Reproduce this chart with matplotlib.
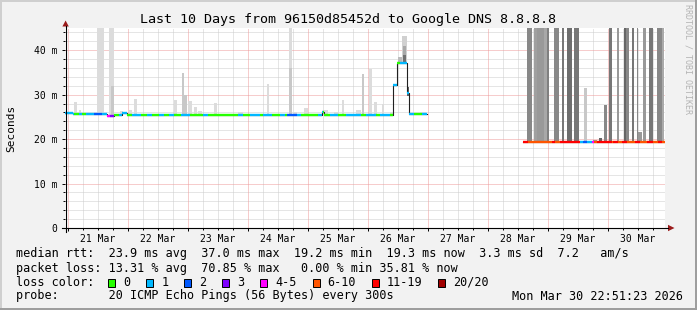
import matplotlib
matplotlib.use('Agg')
import matplotlib.pyplot as plt
from matplotlib.patches import Rectangle, Polygon
from matplotlib.lines import Line2D
import numpy as np

W, H = 697, 310
MONO = 'DejaVu Sans Mono'

# time is in hours counted from 21 Mar 00:00
t_start, t_end = -1.15, 238.85
day_labels = ['21 Mar', '22 Mar', '23 Mar', '24 Mar', '25 Mar',
              '26 Mar', '27 Mar', '28 Mar', '29 Mar', '30 Mar']
y_ticks = [0, 10, 20, 30, 40]
y_tick_labels = ['0', '10 m', '20 m', '30 m', '40 m']

loss_labels = ['0', '1', '2', '3', '4-5', '6-10', '11-19', '20/20']
loss_colors = ['#26ff00', '#00b8ff', '#0059ff', '#7e00ff',
               '#ff00ff', '#ff5500', '#ff0000', '#a10000']

# median rtt (ms), step values, first block of data
med1_t = [-1.15, 2.0, 10.4, 13.7, 15.6, 18.4, 21.5, 23.6, 101.6, 102.4,
          130.1, 131.5, 135.5, 136.3, 143.6]
med1_v = [25.8, 25.6, 25.6, 25.7, 25.3, 25.5, 25.8, 25.5, 26.0, 25.5,
          32.1, 37.1, 30.4, 25.7, 25.7]
# loss colour runs (start hour, loss class index)
run1_t = [-1.15, 2.4, 4.4, 5.6, 7.1, 10.4, 13.7, 15.6, 16.9, 18.4, 20.4,
          23.6, 25.6, 29.1, 31.7, 33.7, 36.4, 38.4, 40.4, 42.4, 45.1, 48.8,
          54.0, 56.0, 68.0, 70.0, 72.8, 76.8, 78.0, 81.6, 84.8, 86.8, 87.6,
          91.6, 93.2, 100.0, 102.0, 104.8, 108.0, 111.2, 117.2, 119.2,
          123.2, 124.8, 128.8, 130.0, 131.6, 132.8, 138.4, 141.6]
run1_c = [1, 0, 1, 0, 1, 2, 1, 4, 3, 0, 1,
          0, 1, 0, 1, 0, 1, 0, 1, 0, 1, 0,
          1, 0, 1, 0, 1, 0, 1, 0, 1, 0, 2,
          1, 0, 1, 0, 1, 0, 1, 0, 1,
          0, 1, 0, 1, 0, 1, 0, 1]

# second block of data
med2_t = [182.1, 238.8]
med2_v = [19.4, 19.4]
run2_t = [182.1, 184.0, 193.6, 194.8, 196.8, 204.8, 206.1, 207.5, 209.5,
          210.4, 211.5, 217.6, 218.1, 220.0, 221.5, 223.6, 226.8, 228.8,
          231.5, 234.1, 236.1, 237.5]
run2_c = [6, 5, 6, 5, 6, 1, 2, 1, 4,
          5, 6, 5, 6, 5, 6, 5, 6, 5,
          6, 5, 6, 5]

# smoke (ping spread): start, end, low, high, grey
smoke_t0 = [2.4, 4.4, 11.7, 16.4, 17.4, 20.8, 24.4, 26.4, 42.4, 45.5, 46.4,
            48.0, 50.4, 52.0, 58.4, 68.0, 79.5, 88.4, 88.4, 90.0, 94.4,
            101.9, 106.4, 107.9, 109.5, 115.2, 117.5, 120.3, 122.3, 125.5,
            128.8, 140.8,
            131.9, 133.6, 134.0, 134.2, 135.5,
            183.5, 186.5, 187.5, 190.4, 191.7, 194.4, 197.7, 199.5, 202.4,
            206.4, 210.0, 212.4, 214.4, 216.4, 219.5, 222.4, 223.4, 225.7,
            227.5, 228.1, 230.1, 232.4, 235.5, 237.5]
smoke_t1 = [3.6, 5.2, 14.4, 18.4, 18.4, 22.0, 25.6, 27.6, 43.6, 46.4, 47.5,
            49.5, 51.5, 53.5, 59.5, 70.0, 80.4, 89.7, 89.7, 91.5, 95.9,
            103.9, 107.9, 108.5, 110.3, 117.2, 118.5, 121.6, 123.5, 126.3,
            130.0, 143.2,
            133.9, 135.5, 135.2, 135.2, 136.5,
            185.5, 187.5, 190.4, 191.7, 192.4, 196.4, 198.5, 201.6, 204.4,
            207.6, 211.6, 213.6, 215.6, 217.7, 220.4, 223.4, 224.4, 226.5,
            228.1, 229.7, 231.1, 234.1, 237.5, 238.4]
smoke_lo = [25.5] * 32 + [37.0, 37.3, 37.3, 37.3, 29.7] + [19.4] * 24
smoke_hi = [28.3, 26.5, 50, 50, 32.0, 26.4, 26.6, 29.0, 28.8, 34.8, 30.0,
            28.5, 27.3, 26.4, 28.2, 26.1, 32.4, 50, 36.0, 26.2, 27.1,
            26.5, 26.2, 27.7, 28.8, 26.5, 34.6, 35.7, 28.4, 27.9,
            26.2, 26.2,
            38.4, 43.1, 41.0, 39.0, 31.7,
            50, 50, 50, 50, 50, 50, 50, 50, 50,
            31.5, 19.9, 20.3, 27.6, 50, 50, 50, 50, 50,
            50, 21.5, 50, 50, 50, 50]
smoke_grey = ['#dcdcdc', '#dcdcdc', '#dcdcdc', '#dcdcdc', '#c8c8c8', '#dcdcdc',
              '#dcdcdc', '#dcdcdc', '#dcdcdc', '#c8c8c8', '#c8c8c8', '#dcdcdc',
              '#dcdcdc', '#dcdcdc', '#dcdcdc', '#dcdcdc', '#dcdcdc', '#dcdcdc',
              '#c8c8c8', '#dcdcdc', '#dcdcdc', '#dcdcdc', '#dcdcdc', '#dcdcdc',
              '#dcdcdc', '#dcdcdc', '#c8c8c8', '#dcdcdc', '#dcdcdc', '#dcdcdc',
              '#dcdcdc', '#dcdcdc',
              '#bbbbbb', '#d0d0d0', '#a8a8a8', '#707070', '#606060',
              '#888888', '#a0a0a0', '#999999', '#a8a8a8', '#808080', '#888888',
              '#777777', '#6e6e6e', '#777777', '#c8c8c8', '#999999', '#666666',
              '#888888', '#777777', '#999999', '#666666', '#888888', '#777777',
              '#888888', '#999999', '#999999', '#777777', '#888888', '#aaaaaa']

stats_line1 = 'median rtt:  23.9 ms avg  37.0 ms max  19.2 ms min  19.3 ms now  3.3 ms sd  7.2   am/s'
stats_line2 = 'packet loss: 13.31 % avg  70.85 % max   0.00 % min 35.81 % now'
probe_text = 'probe:       20 ICMP Echo Pings (56 Bytes) every 300s'
stamp_text = 'Mon Mar 30 22:51:23 2026'
title = 'Last 10 Days from 96150d85452d to Google DNS 8.8.8.8'


def fx(x):
    return x / W


def fy(y):
    return 1 - y / H


fig = plt.figure(figsize=(W / 100, H / 100), dpi=100)
fig.patch.set_facecolor('#f2f2f2')

# 3D frame round the canvas
fig.add_artist(Rectangle((0, 0), fx(2), 1, transform=fig.transFigure, color='#cfcfcf', lw=0))
fig.add_artist(Rectangle((0, fy(2)), 1, 2 / H, transform=fig.transFigure, color='#cfcfcf', lw=0))
fig.add_artist(Rectangle((fx(W - 2), 0), fx(2), 1, transform=fig.transFigure, color='#9e9e9e', lw=0))
fig.add_artist(Rectangle((0, 0), 1, 2 / H, transform=fig.transFigure, color='#9e9e9e', lw=0))

ax = fig.add_axes([fx(65.1), fy(228), 600 / W, 200 / H])
ax.set_facecolor('white')
for s in ax.spines.values():
    s.set_visible(False)

# grid
for t in np.arange(6, 240, 6):
    if t % 24 != 0:
        ax.axvline(t, color='#cccccc', lw=0.72, ls=(0, (1, 1)), zorder=1)
for v in np.arange(2, 45, 2):
    if v % 10 != 0:
        ax.axhline(v, color='#cccccc', lw=0.72, ls=(0, (1, 1)), zorder=1)
for t in np.arange(0, 240, 24):
    ax.axvline(t, color='#ee9a9a', lw=0.72, ls=(0, (1, 1)), zorder=1.2)
for v in y_ticks[1:]:
    ax.axhline(v, color='#ee9a9a', lw=0.72, ls=(0, (1, 1)), zorder=1.2)

# smoke
ax.bar(smoke_t0, np.array(smoke_hi) - np.array(smoke_lo),
       width=np.array(smoke_t1) - np.array(smoke_t0), bottom=smoke_lo,
       align='edge', color=smoke_grey, lw=0, zorder=2)


def draw_median(mt, mv, rt, rc):
    ax.step(mt, mv, where='post', color='#202020', lw=0.8, zorder=4)
    edges = sorted(set(mt) | set(rt))
    for a, b in zip(edges[:-1], edges[1:]):
        v = mv[np.searchsorted(mt, a, side='right') - 1]
        c = rc[np.searchsorted(rt, a, side='right') - 1]
        ax.hlines(v, a, b, color=loss_colors[c], lw=1.7, zorder=5)


draw_median(med1_t, med1_v, run1_t, run1_c)
draw_median(med2_t, med2_v, run2_t, run2_c)

# ticks and labels
ax.set_xticks(np.arange(0, 240, 24), labels=[''] * 10)
ax.set_xticks(np.arange(6, 240, 6), minor=True)
ax.tick_params(axis='x', which='major', length=2.5, width=0.7, direction='out')
ax.tick_params(axis='x', which='minor', length=1.4, width=0.7, direction='out')
ax.set_yticks(y_ticks, labels=y_tick_labels, family=MONO, size=7)
ax.set_yticks(np.arange(0, 45, 2), minor=True)
ax.tick_params(axis='y', which='major', length=2.5, width=0.7, pad=3)
ax.tick_params(axis='y', which='minor', length=1.4, width=0.7)
ax.set_xlim(t_start, t_end)
ax.set_ylim(0, 45)
for i, lab in enumerate(day_labels):
    ax.annotate(lab, (12 + 24 * i, 0), xycoords=('data', 'axes fraction'),
                xytext=(0, -10.5), textcoords='offset pixels',
                ha='center', va='center', family=MONO, size=7)

# axes with arrows
fig.add_artist(Line2D([fx(62), fx(668)], [fy(228), fy(228)], transform=fig.transFigure, color='black', lw=0.8))
fig.add_artist(Line2D([fx(65.6), fx(65.6)], [fy(232), fy(26)], transform=fig.transFigure, color='black', lw=0.8))
fig.add_artist(Polygon([[fx(668), fy(224.8)], [fx(668), fy(231.2)], [fx(674.5), fy(228)]],
                       transform=fig.transFigure, color='#9b1c1c', lw=0))
fig.add_artist(Polygon([[fx(62.4), fy(26.5)], [fx(68.8), fy(26.5)], [fx(65.6), fy(20.5)]],
                       transform=fig.transFigure, color='#9b1c1c', lw=0))

fig.text(fx(348), fy(19), title, ha='center', va='center', family=MONO, size=9.6)
fig.text(fx(11), fy(128), 'Seconds', rotation=90, ha='center', va='center', family=MONO, size=8)
fig.text(fx(688), fy(4), 'RRDTOOL / TOBI OETIKER', rotation=270, ha='center', va='top',
         family=MONO, size=6, color='#b4b4b4')

# legend area
fig.text(fx(16), fy(254), stats_line1, ha='left', va='center', family=MONO, size=8.5)
fig.text(fx(16), fy(268.3), stats_line2, ha='left', va='center', family=MONO, size=8.5)
fig.text(fx(16), fy(282.3), 'loss color:', ha='left', va='center', family=MONO, size=8.5)
fig.text(fx(16), fy(296), probe_text, ha='left', va='center', family=MONO, size=8.5)
fig.text(fx(683), fy(296), stamp_text, ha='right', va='center', family=MONO, size=8.5)

sx = 108.3
for lab, col in zip(loss_labels, loss_colors):
    fig.add_artist(Rectangle((fx(sx), fy(286.5)), 7 / W, 8 / H, transform=fig.transFigure,
                             facecolor=col, edgecolor='black', lw=0.7))
    fig.text(fx(sx + 15), fy(282.3), lab, ha='left', va='center', family=MONO, size=8.5)
    sx += 30.9 + 7.1 * len(lab)

fig.savefig('out.png', dpi=100, facecolor=fig.get_facecolor())
